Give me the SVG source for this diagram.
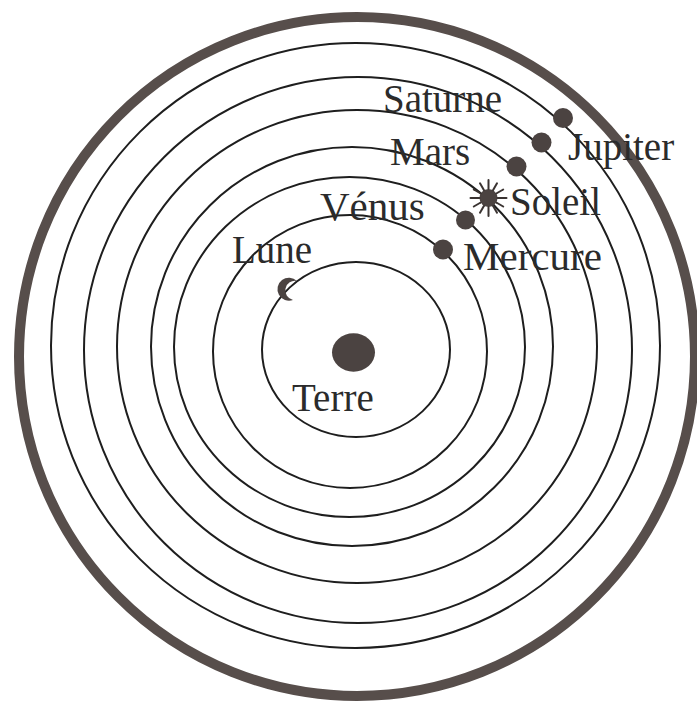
<svg xmlns="http://www.w3.org/2000/svg" width="697" height="702" viewBox="0 0 697 702">
  <style>
    .orbit { fill: none; stroke: #1e1e1e; stroke-width: 2; }
    .outer { fill: none; stroke: #574e4b; stroke-width: 10; }
    .body { fill: #4b4341; }
    .ray { stroke: #3a3331; stroke-width: 2; stroke-linecap: round; }
    .label { font-family: "Liberation Serif", "Times New Roman", serif; font-size: 39px; fill: #2b2b2b; }
  </style>
  <rect width="697" height="702" fill="#ffffff"/>
  <g id="orbits">
    <ellipse class="outer" cx="357" cy="356.5" rx="338" ry="339.5"/>
    <ellipse class="orbit" cx="355.5" cy="345.5" rx="304.5" ry="302.5"/>
    <ellipse class="orbit" cx="358" cy="350" rx="274" ry="273"/>
    <ellipse class="orbit" cx="357" cy="346.5" rx="240" ry="236.5"/>
    <ellipse class="orbit" cx="352" cy="346.5" rx="201" ry="199.5"/>
    <ellipse class="orbit" cx="349.5" cy="347" rx="175.5" ry="170"/>
    <ellipse class="orbit" cx="350" cy="351.5" rx="137" ry="136.5"/>
    <ellipse class="orbit" cx="356" cy="349.5" rx="94" ry="87.5"/>
  </g>
  <g id="terre">
    <ellipse class="body" cx="353.5" cy="352.5" rx="21.5" ry="19.2"/>
    <text class="label" x="292" y="411">Terre</text>
  </g>
  <g id="lune">
    <path class="body" d="M 297 281 A 11.5 11.5 0 1 0 293 300 A 8 8 0 1 1 297 281 Z"/>
    <text class="label" x="232" y="263">Lune</text>
  </g>
  <g id="mercure">
    <circle class="body" cx="443" cy="249.5" r="10"/>
    <text class="label" x="463" y="270" style="font-size:41px">Mercure</text>
  </g>
  <g id="venus">
    <circle class="body" cx="465.5" cy="220" r="9.5"/>
    <text class="label" x="320" y="220" style="font-size:41px">Vénus</text>
  </g>
  <g id="soleil">
    <g transform="translate(488.5,198)">
      <circle class="body" r="9"/>
      <line class="ray" x1="0" y1="-9" x2="0" y2="-18"/>
      <line class="ray" x1="0" y1="9" x2="0" y2="18"/>
      <line class="ray" x1="-9" y1="0" x2="-18" y2="0"/>
      <line class="ray" x1="9" y1="0" x2="18" y2="0"/>
      <line class="ray" x1="4.5" y1="-7.8" x2="8.5" y2="-14.7"/>
      <line class="ray" x1="-4.5" y1="-7.8" x2="-8.5" y2="-14.7"/>
      <line class="ray" x1="4.5" y1="7.8" x2="8.5" y2="14.7"/>
      <line class="ray" x1="-4.5" y1="7.8" x2="-8.5" y2="14.7"/>
      <line class="ray" x1="7.8" y1="-4.5" x2="14.7" y2="-8.5"/>
      <line class="ray" x1="-7.8" y1="-4.5" x2="-14.7" y2="-8.5"/>
      <line class="ray" x1="7.8" y1="4.5" x2="14.7" y2="8.5"/>
      <line class="ray" x1="-7.8" y1="4.5" x2="-14.7" y2="8.5"/>
    </g>
    <text class="label" x="510" y="215">Soleil</text>
  </g>
  <g id="mars">
    <circle class="body" cx="516.5" cy="166.5" r="10"/>
    <text class="label" x="390" y="165">Mars</text>
  </g>
  <g id="jupiter">
    <circle class="body" cx="541.5" cy="142.5" r="10"/>
    <text class="label" x="568" y="160">Jupiter</text>
  </g>
  <g id="saturne">
    <circle class="body" cx="563" cy="118" r="10"/>
    <text class="label" x="383" y="112">Saturne</text>
  </g>
</svg>
